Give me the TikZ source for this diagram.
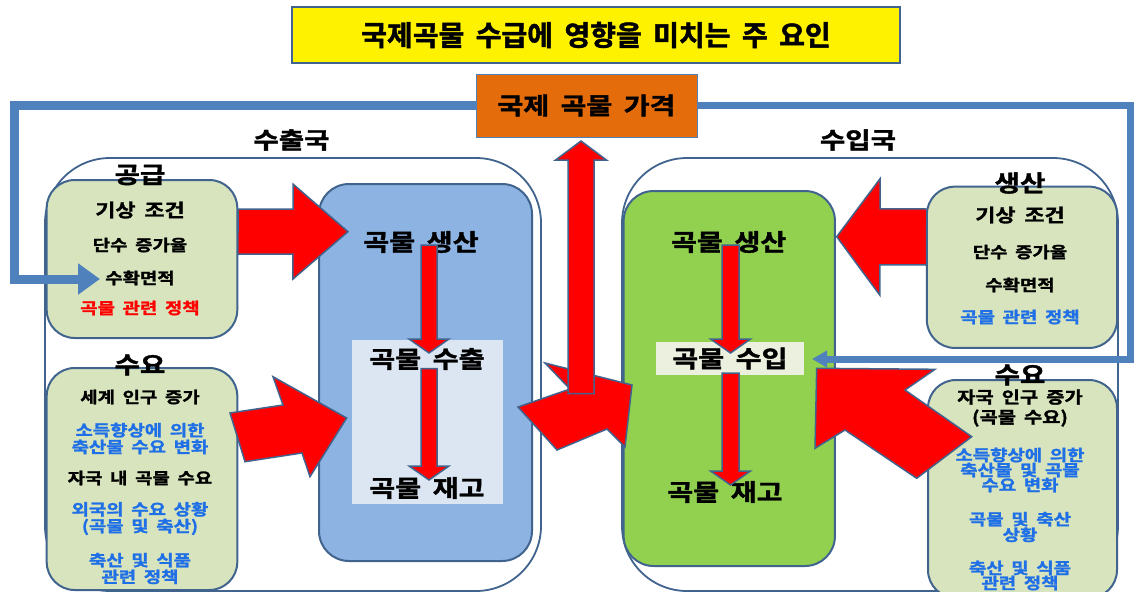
\documentclass[tikz,border=0pt]{standalone}
\usepackage{fontspec}
\setmainfont{Noto Sans CJK KR}[BoldFont=* Bold, BoldFeatures={FakeBold=1.6}, FakeStretch=1.2, WordSpace=1.8]
\newfontfamily\titlefont{Noto Sans CJK KR}[BoldFont=* Bold, BoldFeatures={FakeBold=1.6}, WordSpace=1.8]
\usetikzlibrary{calc,arrows.meta}

\definecolor{edge}{HTML}{41648F}
\definecolor{feedblue}{HTML}{4F81BD}
\definecolor{boxgreen}{HTML}{D7E4BD}
\definecolor{expblue}{HTML}{8DB3E2}
\definecolor{explight}{HTML}{DCE6F2}
\definecolor{impgreen}{HTML}{92D050}
\definecolor{implight}{HTML}{EBF1DE}
\definecolor{priceorange}{HTML}{E46C0A}
\definecolor{txtblue}{HTML}{1F6FE6}

\newcommand{\fz}[2]{\fontsize{#1}{#2}\selectfont}
\newcommand{\fatarrow}[5]{
	\coordinate (hb) at ($(#2)!#5!(#1)$);
	\draw[redarrow] ($(#1)!#3!90:(#2)$) -- ($(hb)!#3!-90:(#1)$) -- ($(hb)!#4!-90:(#1)$) -- (#2)
		-- ($(hb)!#4!90:(#1)$) -- ($(hb)!#3!90:(#1)$) -- ($(#1)!#3!-90:(#2)$) -- cycle;
}

\tikzset{
	panel/.style={draw=edge, line width=1.8pt, rounded corners=65pt, fill=white},
	sidebox/.style={draw=edge, line width=2pt, rounded corners=28pt, fill=boxgreen},
	flowbox/.style={draw=edge, line width=2pt, rounded corners=30pt},
	redarrow/.style={draw=edge, line width=1.5pt, fill=red, line join=miter},
	feed/.style={draw=feedblue, line width=9pt, line join=miter},
	head/.style={font=\bfseries\fz{23}{23}, inner sep=0pt},
	big/.style={font=\bfseries\fz{23.5}{24}, inner sep=0pt},
	cond/.style={font=\bfseries\fz{18.2}{19}, inner sep=0pt},
	item/.style={font=\bfseries\fz{15.7}{16.7}, align=center, inner sep=0pt},
}

\begin{document}
\begin{tikzpicture}[x=1pt, y=-1pt]
	\clip (0,0) rectangle (1136,592);
	\fill[white] (0,0) rectangle (1136,592);

	\node[draw=edge, line width=2pt, fill=yellow, minimum width=608pt, minimum height=56pt,
		font=\titlefont\bfseries\fz{28}{28}] (title) at (596,35) {국제곡물 수급에 영향을 미치는 주 요인};

	\node[panel, minimum width=496pt, minimum height=433pt] (exp) at (293,374.5) {};
	\node[panel, minimum width=496pt, minimum height=433pt] (imp) at (870,374.5) {};
	\node[head] (expl) at (291.5,140) {수출국};
	\node[head] (impl) at (858,140) {수입국};

	\node[sidebox, minimum width=190.6pt, minimum height=158pt] (sup) at (142,259) {};
	\node[sidebox, minimum width=190.6pt, minimum height=222pt] (dem) at (142,479) {};
	\node[sidebox, minimum width=190.3pt, minimum height=161.3pt] (prod) at (1022,267.3) {};
	\node[sidebox, minimum width=189pt, minimum height=218pt] (idem) at (1022.5,489) {};

	\node[flowbox, fill=expblue, minimum width=213pt, minimum height=377pt] (ebox) at (425.5,372.5) {};
	\node[fill=explight, minimum width=151.4pt, minimum height=164pt] (einner) at (427.3,422) {};
	\node[flowbox, fill=impgreen, minimum width=211.3pt, minimum height=375pt] (ibox) at (729.3,378.5) {};

	\coordinate (a1s) at (238,231.5);   \coordinate (a1t) at (348,231.7);
	\coordinate (a4s) at (926.7,237);   \coordinate (a4t) at (836.7,236.7);
	\coordinate (ups) at (581,393.7);   \coordinate (upt) at (581,141);
	\fatarrow{a1s}{a1t}{22.5pt}{47.5pt}{55pt}
	\draw[redarrow] (230,413) -- (283,405) -- (273,376.7) -- (346.7,418) -- (310,476.7) -- (302,453) -- (245,461.7) -- cycle;
	\draw[redarrow] (518,407) -- (570,389) -- (545,363) -- (632,385) -- (625,447) -- (607,429) -- (557,450) -- cycle;
	\fatarrow{ups}{upt}{13pt}{25.5pt}{19pt}
	\fatarrow{a4s}{a4t}{28pt}{58.3pt}{43.3pt}
	\draw[redarrow] (816.7,368.3) -- (935,369.3) -- (905,390) -- (971.7,436.7) -- (916.7,478.3) -- (845,430) -- (815,448.3) -- cycle;

	\node[big] (eprod) at (421,242) {곡물 생산};
	\node[big] (eout) at (427,359) {곡물 수출};
	\node[big] (estock) at (427,488) {곡물 재고};
	\node[big] (iprod) at (728.7,242) {곡물 생산};
	\node[big, fill=implight, minimum width=148.5pt, minimum height=33pt] (iin) at (730,358.5) {곡물 수입};
	\node[big] (istock) at (725,492) {곡물 재고};

	\coordinate (d1s) at (429,245);   \coordinate (d1t) at (429,353);
	\coordinate (d2s) at (429,368.6); \coordinate (d2t) at (429,480);
	\coordinate (d3s) at (730.5,245); \coordinate (d3t) at (730.5,353);
	\coordinate (d4s) at (730.5,373); \coordinate (d4t) at (730.5,485);
	\fatarrow{d1s}{d1t}{8pt}{20pt}{14pt}
	\fatarrow{d2s}{d2t}{8pt}{20pt}{14pt}
	\fatarrow{d3s}{d3t}{8.5pt}{20pt}{14pt}
	\fatarrow{d4s}{d4t}{8.5pt}{20pt}{14pt}

	\node[head] (supl) at (140,175) {공급};
	\node[cond] (s1) at (140,210) {기상 조건};
	\node[item] (s2) at (140,245) {단수 증가율};
	\node[item] (s3) at (140,278) {수확면적};
	\node[item, text=red] (s4) at (140,308) {곡물 관련 정책};

	\node[head] (deml) at (140,365) {수요};
	\node[item] (m1) at (140,397) {세계 인구 증가};
	\node[item, text=txtblue] (m2) at (140,438.5) {소득향상에 의한\\축산물 수요 변화};
	\node[item] (m3) at (140,478) {자국 내 곡물 수요};
	\node[item, text=txtblue] (m4) at (140,518.5) {외국의 수요 상황\\(곡물 및 축산)};
	\node[item, text=txtblue] (m5) at (140,568.5) {축산 및 식품\\관련 정책};

	\node[head] (prodl) at (1020,183) {생산};
	\node[cond] (p1) at (1020,215) {기상 조건};
	\node[item] (p2) at (1020,252) {단수 증가율};
	\node[item] (p3) at (1020,285) {수확면적};
	\node[item, text=txtblue] (p4) at (1020,317) {곡물 관련 정책};

	\node[head] (ideml) at (1020,375) {수요};
	\node[item, font=\bfseries\fz{16.5}{20}] (n1) at (1020,408) {자국 인구 증가\\(곡물 수요)};
	\node[item, text=txtblue, font=\bfseries\fz{15.7}{15}] (n2) at (1020,470) {소득향상에 의한\\축산물 및 곡물\\수요 변화};
	\node[item, text=txtblue, font=\bfseries\fz{15.7}{14}] (n3) at (1020,527) {곡물 및 축산\\상황};
	\node[item, text=txtblue, font=\bfseries\fz{15.7}{15}] (n4) at (1020,575.5) {축산 및 식품\\관련 정책};

	\node[draw=feedblue, line width=1pt, fill=priceorange, minimum width=221pt, minimum height=63pt,
		font=\bfseries\fz{23.4}{24}] (price) at (586.5,105.5) {국제 곡물 가격};
	\coordinate (fbl) at (14,279);  \coordinate (fblend) at (100,279);
	\coordinate (fbr) at (1130,359); \coordinate (fbrend) at (812,359);
	\draw[feed] (price.west) -| (fbl) -- ($(fblend)+(-20,0)$);
	\draw[feed, -{Triangle[length=22pt, width=30pt]}] ($(fblend)+(-22,0)$) -- (fblend);
	\draw[feed, line width=7pt] (price.east) -| (fbr) -- ($(fbrend)+(12,0)$);
	\draw[feed, line width=7pt, -{Triangle[length=15pt, width=16pt]}] ($(fbrend)+(15,0)$) -- (fbrend);
\end{tikzpicture}
\end{document}
